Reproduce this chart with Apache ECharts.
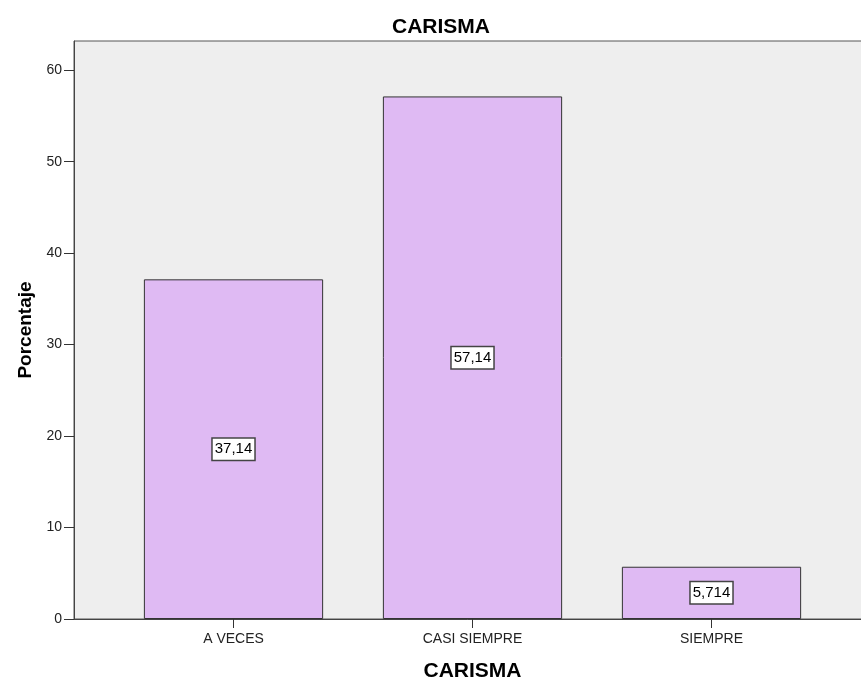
<!DOCTYPE html>
<html>
<head>
<meta charset="utf-8">
<style>
  html, body { margin: 0; padding: 0; background: #ffffff; }
  #chart { width: 861px; height: 682px; }
</style>
<script src="https://cdn.jsdelivr.net/npm/echarts@6/dist/echarts.min.js"></script>
</head>
<body>
<div id="chart"></div>
<script>
// Percentages by answer category
const categories = ['A VECES', 'CASI SIEMPRE', 'SIEMPRE'];
const percentages = [37.14, 57.14, 5.714];
const yTicks = [0, 10, 20, 30, 40, 50, 60];

const FONT = 'Liberation Sans, Arial, sans-serif';
const Y_MAX = 63.2;

const chart = echarts.init(document.getElementById('chart'), null, { renderer: 'canvas' });

chart.setOption({
  animation: false,
  title: {
    text: 'CARISMA',
    left: 436,
    top: 12,
    textAlign: 'center',
    textStyle: { fontFamily: FONT, fontSize: 21, fontWeight: 'bold', color: '#000' }
  },
  grid: [
    // frame with the shaded plot background
    { left: 74, right: -3, top: 41, bottom: 63, show: true, outerBoundsMode: 'none',
      containLabel: false,
      backgroundColor: '#eeeeee', borderColor: '#555555', borderWidth: 1 },
    // inner band holding the bars
    { left: 114, right: 30, top: 41, bottom: 63, outerBoundsMode: 'none', containLabel: false }
  ],
  xAxis: [
    { gridIndex: 0, type: 'value', min: 0, max: 1,
      axisLine: { show: true, lineStyle: { color: '#444', width: 1 } },
      axisTick: { show: false }, axisLabel: { show: false }, splitLine: { show: false } },
    { gridIndex: 1, type: 'category', data: categories,
      axisLine: { show: false },
      axisTick: { show: true, alignWithLabel: true, length: 9, lineStyle: { color: '#333' } },
      axisLabel: { fontFamily: FONT, fontSize: 14, color: '#222', margin: 13 },
      name: 'CARISMA', nameLocation: 'middle', nameGap: 42,
      nameTextStyle: { fontFamily: FONT, fontSize: 21, fontWeight: 'bold', color: '#000' } }
  ],
  yAxis: [
    { gridIndex: 0, type: 'value', min: 0, max: Y_MAX, interval: 10,
      axisLine: { show: true, lineStyle: { color: '#444', width: 1 } },
      axisTick: { show: true, length: 10, customValues: yTicks, lineStyle: { color: '#333' } },
      axisLabel: { fontFamily: FONT, fontSize: 14, color: '#222', margin: 12,
        customValues: yTicks },
      splitLine: { show: false },
      name: 'Porcentaje', nameLocation: 'middle', nameGap: 38, nameRotate: 90,
      nameTextStyle: { fontFamily: FONT, fontSize: 19, fontWeight: 'bold', color: '#000' } },
    { gridIndex: 1, type: 'value', min: 0, max: Y_MAX, show: false }
  ],
  series: [{
    type: 'bar',
    xAxisIndex: 1,
    yAxisIndex: 1,
    data: percentages,
    barCategoryGap: '25%',
    itemStyle: { color: '#dfbaf3', borderColor: '#333', borderWidth: 1 },
    label: {
      show: true,
      position: 'inside',
      formatter: p => String(p.value).replace('.', ','),
      fontFamily: FONT, fontSize: 15, color: '#000',
      backgroundColor: '#ffffff', borderColor: '#444', borderWidth: 1.5,
      padding: [4, 2, 2, 2]
    }
  }]
});
</script>
</body>
</html>
